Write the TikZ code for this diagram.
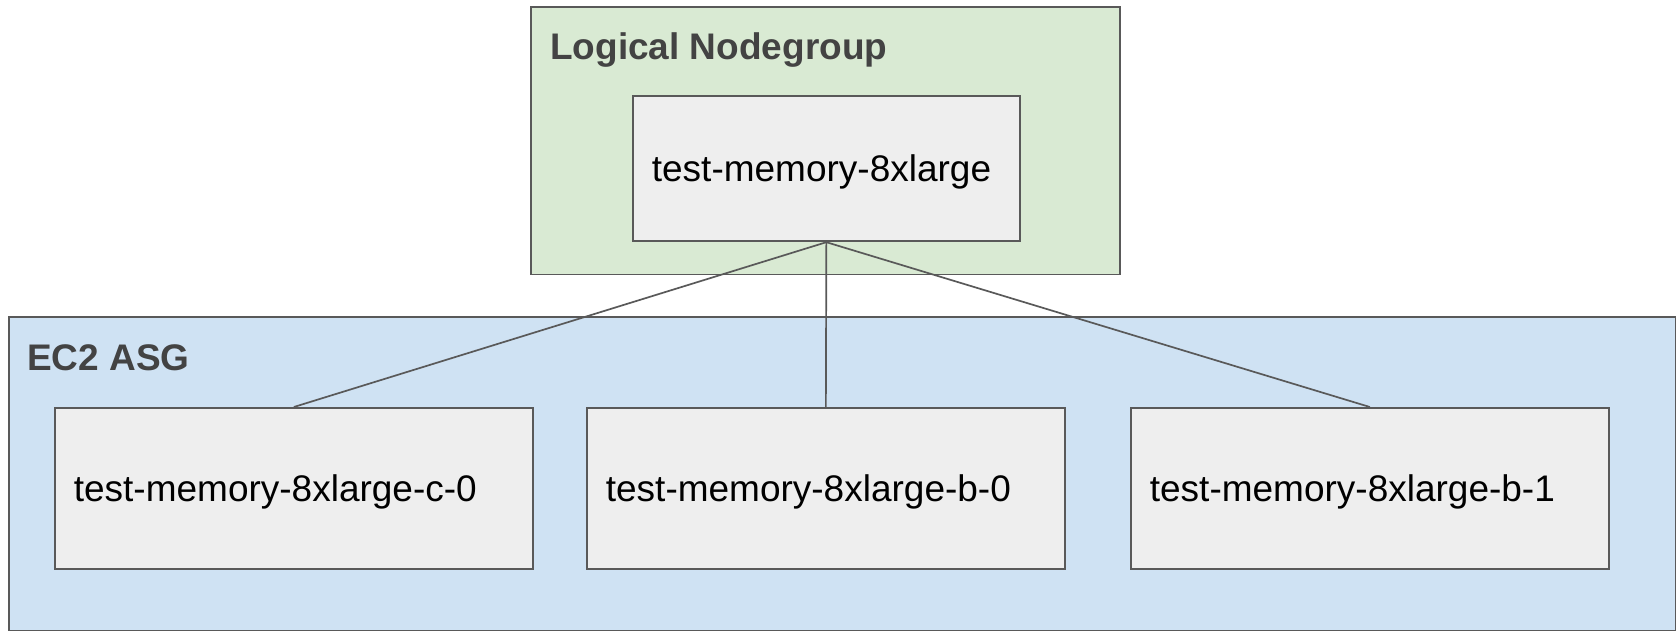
\documentclass[tikz,border=0pt]{standalone}
\usepackage{fontspec}
\setmainfont{Liberation Sans}
\definecolor{groupgreen}{HTML}{D9EAD3}
\definecolor{groupblue}{HTML}{CFE2F3}
\definecolor{boxgray}{HTML}{EEEEEE}
\definecolor{edgegray}{HTML}{595959}
\definecolor{titlegray}{HTML}{434343}
\begin{document}
\begin{tikzpicture}[x=1pt,y=-1pt,
  group/.style={draw=edgegray, line width=1.7pt, anchor=north west, inner sep=0pt},
  grouptitle/.style={anchor=base west, inner sep=0pt, font=\fontsize{37}{40}\selectfont\bfseries, text=titlegray},
  itembox/.style={draw=edgegray, fill=boxgray, line width=1.7pt, anchor=north west,
    inner xsep=19pt, inner ysep=0pt, align=left, text height=26pt, text depth=0pt,
    font=\fontsize{37}{40}\selectfont},
  link/.style={draw=edgegray, line width=1.7pt}]
\useasboundingbox (0,0) rectangle (1676,631);

% outer groups
\node[group, fill=groupgreen, minimum width=589pt, minimum height=267pt] (ng) at (530,6.5) {};
\node[group, fill=groupblue, minimum width=1667pt, minimum height=314pt] (asg) at (8,316) {};
\node[grouptitle] (ngtitle) at (550,60) {Logical Nodegroup};
\node[grouptitle] (asgtitle) at (27,370) {EC2 ASG};

% logical nodegroup
\node[itembox, text width=349pt, minimum height=145.5pt] (top) at (632,95) {test-memory-8xlarge};

% physical groups
\node[itembox, text width=440pt, minimum height=161pt] (c0) at (54,407) {test-memory-8xlarge-c-0};
\node[itembox, text width=440pt, minimum height=161pt] (b0) at (586,407) {test-memory-8xlarge-b-0};
\node[itembox, text width=440pt, minimum height=161pt] (b1) at (1130,407) {test-memory-8xlarge-b-1};

% links
\draw[link] (top.south) -- (c0.north);
\draw[link] (top.south) -- (b0.north);
\draw[link] (top.south) -- (b1.north);
\end{tikzpicture}
\end{document}
